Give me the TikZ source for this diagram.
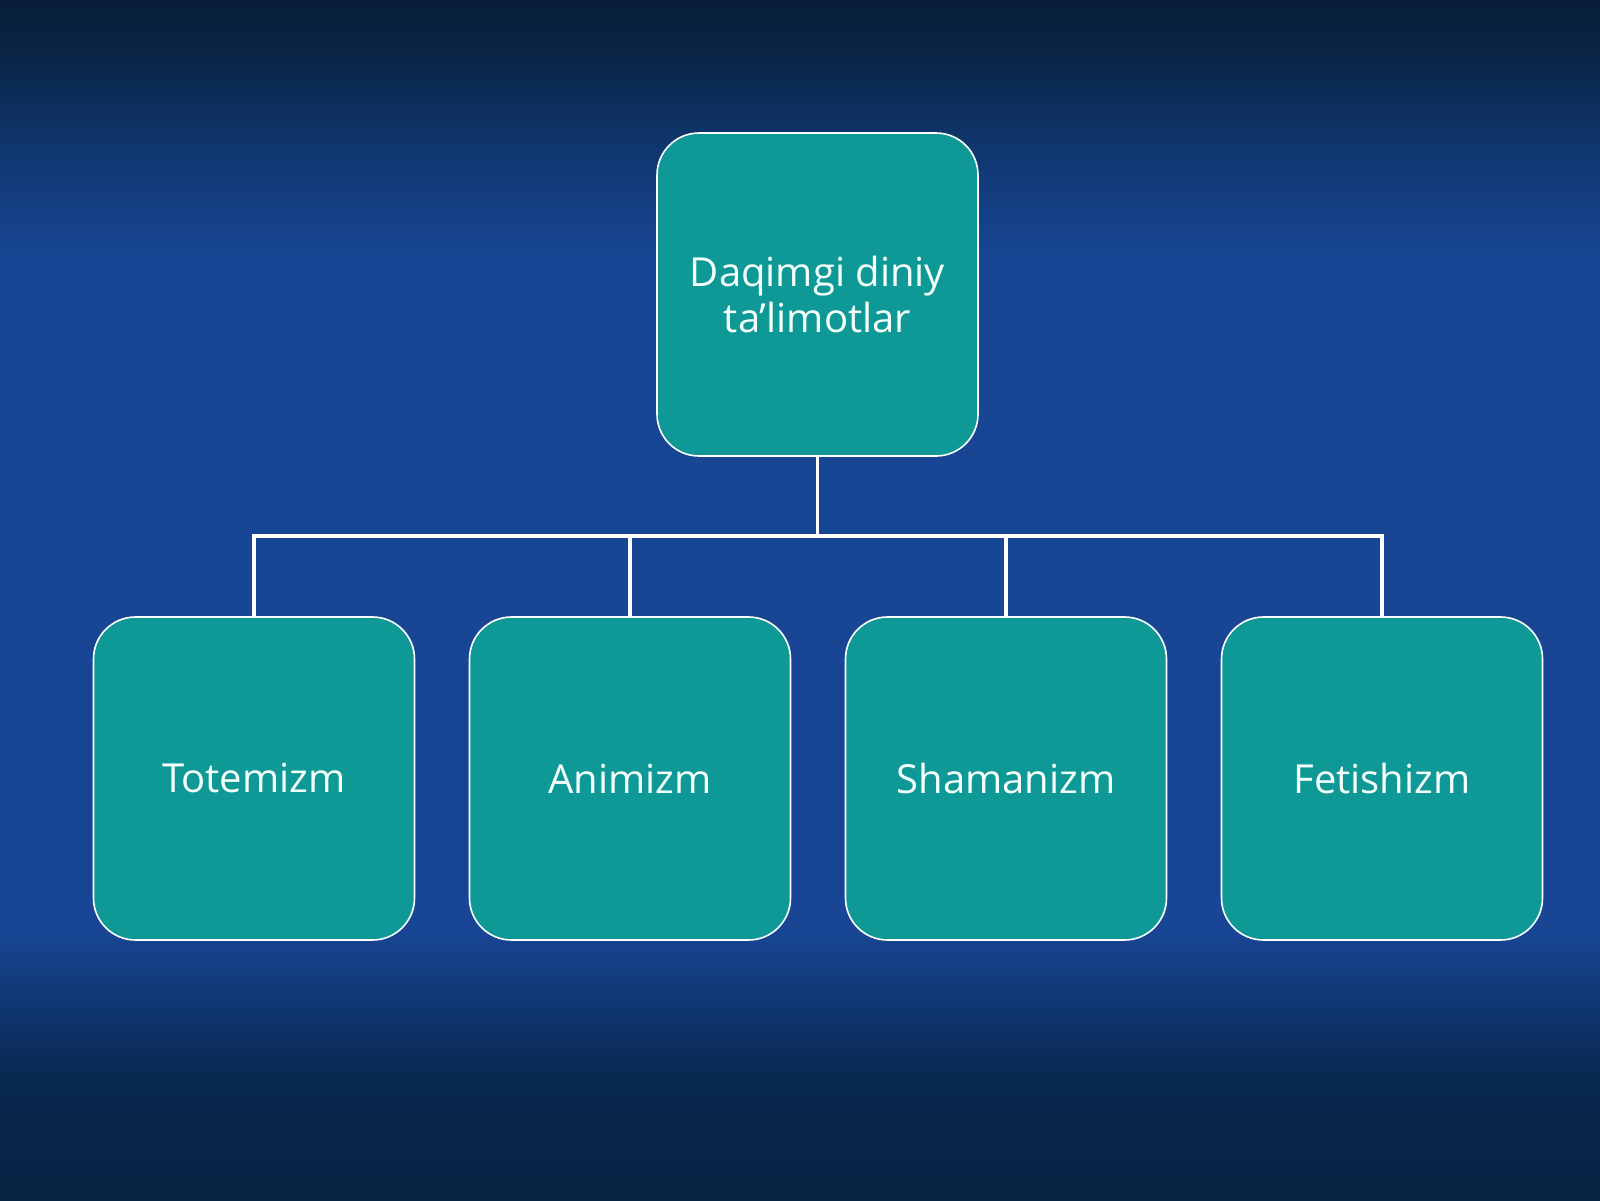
\documentclass[tikz,border=0pt]{standalone}
\usepackage{fontspec}
\setmainfont{Open Sans}
\definecolor{bgA}{RGB}{8,30,55}
\definecolor{bgB}{RGB}{10,38,72}
\definecolor{bgC}{RGB}{16,55,112}
\definecolor{bgmid}{RGB}{24,70,148}
\definecolor{bgD}{RGB}{16,55,115}
\definecolor{bgE}{RGB}{9,40,78}
\definecolor{bgF}{RGB}{8,36,68}
\definecolor{boxfill}{RGB}{14,152,150}
\definecolor{txt}{RGB}{244,255,252}
\pgfdeclareverticalshading{bgshade}{100bp}{color(0bp)=(bgF); color(25bp)=(bgF); color(30bp)=(bgE); color(33.3bp)=(bgD); color(36.2bp)=(bgmid); color(64.2bp)=(bgmid); color(68.7bp)=(bgC); color(72.5bp)=(bgB); color(75bp)=(bgA); color(100bp)=(bgA)}
\tikzset{
  boxstyle/.style={draw=white, line width=1.6pt, fill=boxfill, rounded corners=42pt,
    minimum width=321pt, minimum height=323pt, inner sep=0pt, align=center,
    text=txt, font=\fontsize{40}{46}\selectfont},
  conn/.style={draw=white, line width=3.6pt, line join=miter}
}
\begin{document}
\begin{tikzpicture}[x=1pt,y=-1pt]
\useasboundingbox (0,0) rectangle (1600,1200);
\shade[shading=bgshade] (0,0) rectangle (1600,1200);
\node[boxstyle] (top) at (817.5,294.5) {Daqimgi diniy\\ta’limotlar};
\node[boxstyle] (c1) at (254,778.5) {Totemizm};
\node[boxstyle] (c2) at (630,778.5) {Animizm};
\node[boxstyle] (c3) at (1006,778.5) {Shamanizm};
\node[boxstyle] (c4) at (1382,778.5) {Fetishizm};
\coordinate (bus) at (817.5,536);
\draw[conn] (top.south) -- (top.south |- bus);
\draw[conn] (c1.north) -- (c1.north |- bus) -- (c4.north |- bus) -- (c4.north);
\draw[conn] (c2.north) -- (c2.north |- bus);
\draw[conn] (c3.north) -- (c3.north |- bus);
\end{tikzpicture}
\end{document}
